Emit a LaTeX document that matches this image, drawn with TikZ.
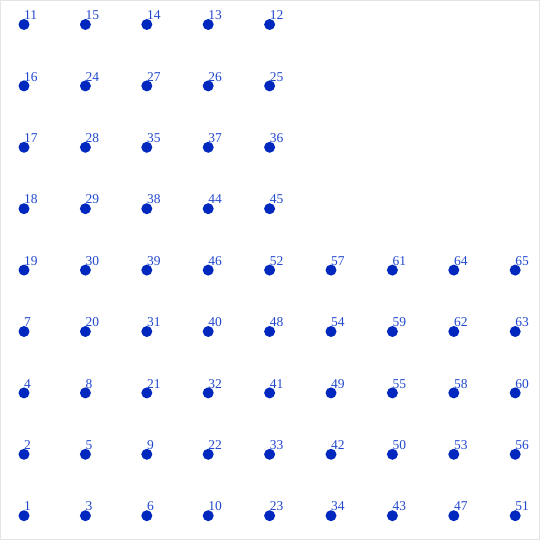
\documentclass[tikz,border=0pt]{standalone}
\usepackage{fontspec}
\setmainfont{Liberation Serif}
\usepackage{tikz}
\usetikzlibrary{positioning}
\definecolor{dotBlue}{HTML}{0028BE}
\definecolor{numBlue}{HTML}{2148CC}
\definecolor{frameGray}{HTML}{E4E4E4}

\begin{document}
\begin{tikzpicture}[
    x=1pt, y=1pt,
    font=\fontsize{13.5}{13.5}\selectfont,
    pt/.style={circle, fill=dotBlue, inner sep=0pt, minimum size=11pt},
    num/.style={anchor=base west, inner sep=0pt, yshift=-1pt, text=numBlue}
]
    \draw[frameGray, line width=1pt] (0.5,0.5) rectangle (539.5,539.5);
    \useasboundingbox (0,0) rectangle (540,540);

    % rows from top to bottom
    \foreach \row [count=\r from 0] in {
        {11,15,14,13,12},
        {16,24,27,26,25},
        {17,28,35,37,36},
        {18,29,38,44,45},
        {19,30,39,46,52,57,61,64,65},
        {7,20,31,40,48,54,59,62,63},
        {4,8,21,32,41,49,55,58,60},
        {2,5,9,22,33,42,50,53,56},
        {1,3,6,10,23,34,43,47,51}}
    {
        \foreach \n [count=\c from 0] in \row {
            \node[pt, label={[num]90:\n}] (p\n) at (24+61.4*\c, 515.5-61.4*\r) {};
        }
    }
\end{tikzpicture}
\end{document}
